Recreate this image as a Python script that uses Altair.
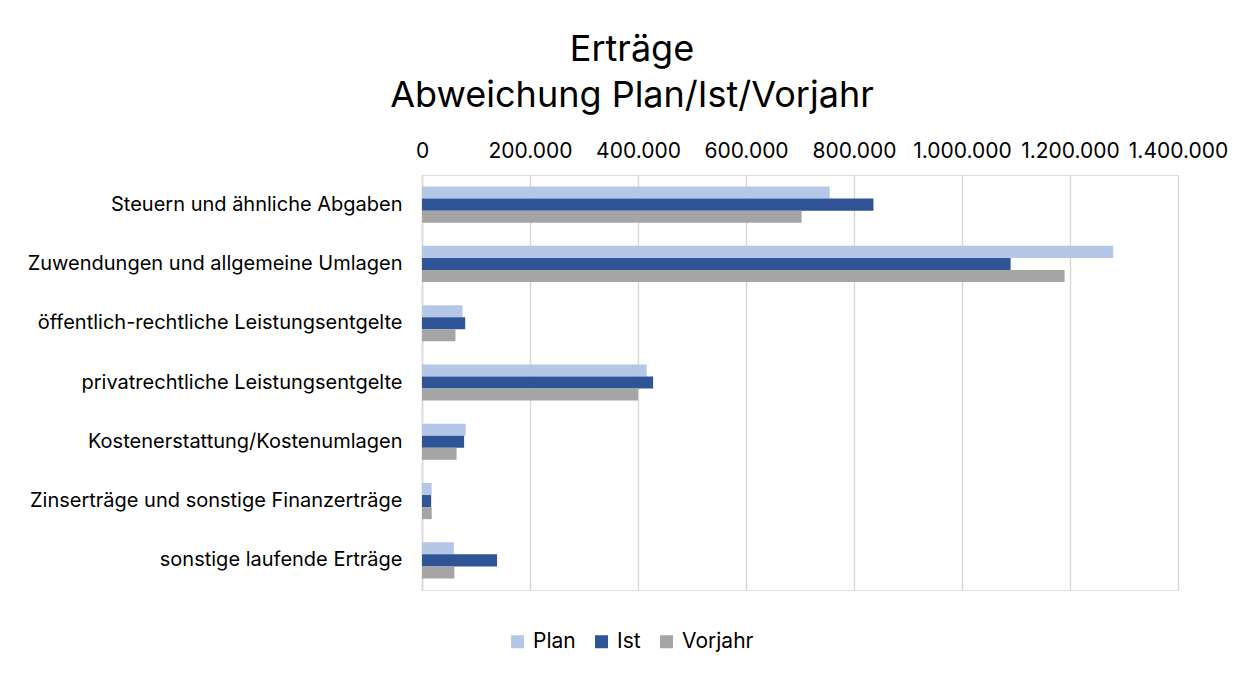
import altair as alt
import pandas as pd

categories = [
    "Steuern und ähnliche Abgaben",
    "Zuwendungen und allgemeine Umlagen",
    "öffentlich-rechtliche Leistungsentgelte",
    "privatrechtliche Leistungsentgelte",
    "Kostenerstattung/Kostenumlagen",
    "Zinserträge und sonstige Finanzerträge",
    "sonstige laufende Erträge",
]
series = ["Plan", "Ist", "Vorjahr"]
plan = [755000, 1280000, 75000, 416000, 81000, 18000, 59000]
ist = [836000, 1090000, 80000, 428000, 78000, 17000, 139000]
vorjahr = [703000, 1190000, 62000, 400000, 64000, 18000, 60000]
colors = ["#b4c7e7", "#2f5597", "#a5a5a5"]
x_ticks = [0, 200000, 400000, 600000, 800000, 1000000, 1200000, 1400000]

rows = []
for name, vals in zip(series, [plan, ist, vorjahr]):
    for c, v in zip(categories, vals):
        rows.append({"Kategorie": c, "Reihe": name, "Wert": v})
df = pd.DataFrame(rows)

FONT = "Inter"

chart = alt.Chart(df).mark_bar().encode(
    y=alt.Y("Kategorie:N", sort=categories,
            scale=alt.Scale(paddingInner=0.39, paddingOuter=0.195),
            axis=alt.Axis(title=None, ticks=False, labelPadding=20, labelLimit=500,
                          labelFontSize=20, labelFont=FONT, labelColor="#000000",
                          domainColor="#d9d9d9", domainWidth=1.5)),
    yOffset=alt.YOffset("Reihe:N", sort=series),
    x=alt.X("Wert:Q", scale=alt.Scale(domain=[0, 1400000], nice=False),
            axis=alt.Axis(orient="top", title=None, values=x_ticks, ticks=False, domain=False,
                          labelOverlap=False, labelFlush=False,
                          labelFontSize=21, labelFont=FONT, labelColor="#000000", labelPadding=14,
                          gridColor="#d9d9d9", gridWidth=1.5,
                          labelExpr="replace(replace(format(datum.value, ','), ',', '.'), ',', '.')")),
    color=alt.Color("Reihe:N", sort=series,
                    scale=alt.Scale(domain=series, range=colors),
                    legend=alt.Legend(title=None, orient="none", direction="horizontal",
                                      legendX=85, legendY=456,
                                      symbolType="square", symbolSize=169, symbolStrokeWidth=0,
                                      labelFontSize=21, labelFont=FONT, labelColor="#000000",
                                      labelOffset=5, columnPadding=15)),
).properties(
    width=756,
    height=415,
    title=alt.TitleParams(
        text=["Erträge", "Abweichung Plan/Ist/Vorjahr"],
        fontSize=36, font=FONT, fontWeight="normal", color="#000000",
        anchor="middle", dx=-168, offset=25, lineHeight=46,
    ),
    autosize=alt.AutoSizeParams(type="none"),
    padding={"left": 414, "top": 167, "right": 60, "bottom": 80},
).configure_view(
    stroke="#dae3f3", strokeWidth=1.5
).configure(
    background="#ffffff"
)

chart.save("out.html", embed_options={"renderer": "svg", "actions": False})
